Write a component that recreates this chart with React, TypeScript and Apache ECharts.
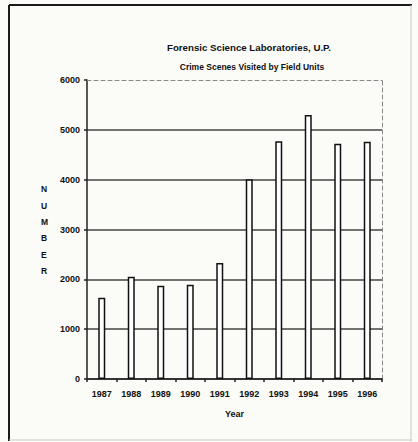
import React, { useEffect, useRef } from "react";
import * as echarts from "echarts";

const years = ["1987", "1988", "1989", "1990", "1991", "1992", "1993", "1994", "1995", "1996"];
const scenesVisited = [1630, 2050, 1870, 1890, 2330, 4010, 4770, 5300, 4720, 4760];
const yTicks = { min: 0, max: 6000, interval: 1000 };
const titleLine1 = "Forensic Science Laboratories, U.P.";
const titleLine2 = "Crime Scenes Visited by Field Units";
const xName = "Year";
const yName = "NUMBER";

export default function App() {
  const ref = useRef<HTMLDivElement>(null);
  useEffect(() => {
    document.body.style.margin = "0";
    const chart = echarts.init(ref.current!, null, { renderer: "svg" });
    const font = "Arial, 'Liberation Sans', sans-serif";
    chart.setOption({
      animation: false,
      backgroundColor: "#fbfbf8",
      title: [
        {
          text: titleLine1,
          left: 244,
          top: 37,
          textAlign: "center",
          textStyle: { fontFamily: font, fontSize: 9.7, fontWeight: "bold", color: "#111" },
        },
        {
          text: titleLine2,
          left: 247,
          top: 57,
          textAlign: "center",
          textStyle: { fontFamily: font, fontSize: 8.5, fontWeight: "bold", color: "#111" },
        },
      ],
      graphic: [
        { type: "line", shape: { x1: 9, y1: 5, x2: 9, y2: 441 }, style: { stroke: "#1a1a1a", lineWidth: 2 } },
        { type: "line", shape: { x1: 9, y1: 5, x2: 412, y2: 5 }, style: { stroke: "#1a1a1a", lineWidth: 2 } },
        { type: "line", shape: { x1: 411, y1: 5, x2: 411, y2: 441 }, style: { stroke: "#c8c8c8", lineWidth: 1 } },
        { type: "line", shape: { x1: 9, y1: 440, x2: 412, y2: 440 }, style: { stroke: "#c8c8c8", lineWidth: 1 } },
        {
          type: "text",
          left: 41,
          top: 181,
          style: {
            text: yName.split("").join("\n"),
            font: `bold 8.5px ${font}`,
            lineHeight: 16.4,
            fill: "#111",
            align: "center",
          },
        },
      ],
      grid: { left: 87, right: 36, top: 80, bottom: 63 },
      xAxis: [
        {
          type: "category",
          data: years,
          boundaryGap: true,
          name: xName,
          nameLocation: "middle",
          nameGap: 30,
          nameTextStyle: { fontFamily: font, fontSize: 9, fontWeight: "bold", color: "#111" },
          axisLine: { lineStyle: { color: "#222", width: 1.5 } },
          axisTick: { show: true, length: 3, lineStyle: { color: "#222", width: 1.5 } },
          axisLabel: { fontFamily: font, fontSize: 9, fontWeight: "bold", color: "#111", margin: 10 },
        },
        {
          type: "category",
          data: years,
          position: "top",
          axisLine: { show: true, onZero: false, lineStyle: { color: "#888", width: 1, type: [4, 3] } },
          axisTick: { show: false },
          axisLabel: { show: false },
        },
      ],
      yAxis: [
        {
          type: "value",
          min: yTicks.min,
          max: yTicks.max,
          interval: yTicks.interval,
          axisLine: { show: true, lineStyle: { color: "#222", width: 1.5 } },
          axisTick: { show: true, length: 3, lineStyle: { color: "#222", width: 1.5 } },
          axisLabel: {
            fontFamily: font,
            fontSize: 9,
            fontWeight: "bold",
            color: "#111",
            margin: 7,
            formatter: (v: number) => String(v),
          },
          splitLine: {
            show: true,
            lineStyle: {
              color: ["#444", "#444", "#444", "#444", "#444", "#444", "rgba(0,0,0,0)"],
              width: 1.5,
            },
          },
        },
        {
          type: "value",
          min: yTicks.min,
          max: yTicks.max,
          interval: yTicks.interval,
          position: "right",
          axisLine: { show: true, onZero: false, lineStyle: { color: "#888", width: 1, type: [4, 3] } },
          axisTick: { show: false },
          axisLabel: { show: false },
          splitLine: { show: false },
        },
      ],
      series: [
        {
          type: "bar",
          data: scenesVisited,
          barWidth: 7,
          itemStyle: { color: "#ffffff", borderColor: "#111", borderWidth: 1.5 },
        },
      ],
    });
    return () => chart.dispose();
  }, []);
  return <div ref={ref} style={{ width: 418, height: 442 }} />;
}
